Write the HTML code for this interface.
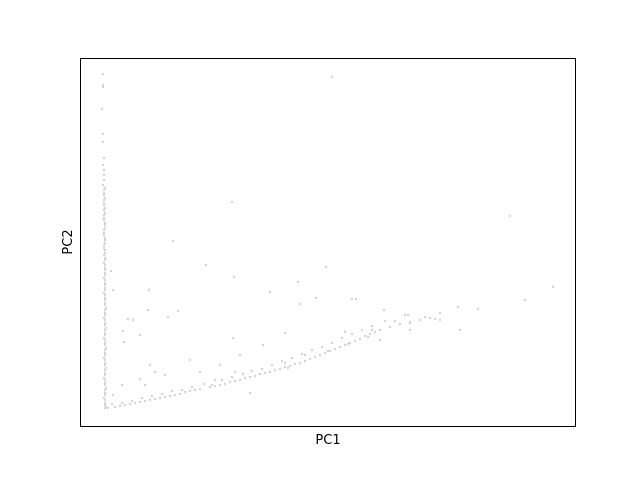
<!DOCTYPE html>
<html><head><meta charset="utf-8"><style>
body{margin:0;background:#fff}
svg text{font-family:"DejaVu Sans","Liberation Sans",sans-serif;font-size:13px;fill:#000}
</style></head><body>
<svg id="chart" width="640" height="480">
<rect x="0" y="0" width="640" height="480" fill="#fff"/>
<g id="pts"></g>
<rect x="80.5" y="58.5" width="495" height="368" fill="none" stroke="#000" stroke-width="1"/>
<text x="328" y="444" text-anchor="middle">PC1</text>
<text transform="translate(72,242) rotate(-90)" text-anchor="middle">PC2</text>
</svg>
<script>
const pc1 = [2.3,2.3,2.3,2.2,2.3,2.3,2.4,2.3,2.4,2.4,2.4,2.3,2.4,2.4,2.4,2.4,2.4,2.4,2.4,2.5,2.4,2.4,2.5,2.4,2.5,2.4,2.5,2.5,2.5,2.5,2.5,2.5,2.5,2.5,2.5,2.5,2.5,2.5,2.5,2.5,2.5,2.5,2.5,2.5,2.5,2.5,2.5,2.5,2.5,2.5,2.5,2.5,2.5,2.5,2.5,2.5,2.5,
2.8,3.5,4.0,4.5,5.0,5.5,6.0,6.5,7.0,7.5,8.0,8.5,9.0,9.5,10.0,10.5,11.0,11.5,12.0,13.0,13.5,14.0,14.5,15.0,15.5,16.0,16.5,17.0,17.5,18.0,18.5,19.0,19.5,20.0,20.5,21.0,21.5,22.0,22.5,23.0,23.5,24.0,24.5,25.0,25.5,26.0,26.5,27.0,27.5,28.0,28.5,29.0,29.5,30.0,31.0,32.0,33.0,34.0,35.0,36.0,37.8,39.8,
25.2,15.2,43.0,9.3,12.6,15.4,24.6,21.8,19.0,47.3,44.5,6.9,3.1,3.3,6.8,8.8,9.8,23.6,22.0,27.2,27.6,30.4,33.0,32.8,29.2,20.5,26.5,20.5,18.3,15.3,4.3,5.3,4.8,6.0,4.4,7.0,7.5,8.5,11.0,12.0,14.0,16.0,15.5,4.2,3.3,6.0,6.5,17.0,13.5,22.5,30.0,33.0,36.0,38.0,
2.5,2.4,2.5,2.4,2.5,2.5,2.4,2.5,2.5,2.4,2.5,2.5,2.4,2.5,2.5,2.4,2.5,2.5,2.4,2.5,2.5,2.4,2.5,2.5,2.6,2.5,2.4,2.5,2.6,2.5,2.4,2.5,2.6,2.5,2.4,2.5,2.6,2.5,2.4,2.5,2.6,2.5,2.4,2.5,2.6,
3.2,4.2,5.2,6.2,7.2,8.2,9.2,10.2,11.2,12.4,13.2,14.2,15.2,16.3,17.2,18.2,19.2,20.2,21.2,22.2,23.2,24.2,25.2,26.2,27.2,28.2,29.2,30.5,31.5,32.5,34.5,35.5,20.8,24.8,26.8,28.8];
const pc2 = [35.3,34.2,34.0,31.8,29.3,28.5,26.9,26.2,25.7,25.2,24.7,24.2,23.7,23.2,22.7,22.2,21.7,21.2,20.7,20.2,19.7,19.2,18.7,18.2,17.7,17.2,16.7,16.2,15.7,15.2,14.7,14.2,13.7,13.2,12.7,12.2,11.7,11.2,10.7,10.2,9.7,9.2,8.7,8.2,7.7,7.2,6.7,6.2,5.7,5.2,4.7,4.2,3.7,3.2,2.7,2.2,1.9,
1.9,2.0,2.1,2.2,2.3,2.4,2.5,2.6,2.7,2.8,2.9,3.0,3.1,3.2,3.3,3.5,3.6,3.7,3.8,4.0,4.1,4.2,4.3,4.5,4.6,4.7,4.9,5.0,5.1,5.3,5.4,5.5,5.7,5.8,6.0,6.1,6.3,6.4,6.6,6.8,7.0,7.2,7.4,7.6,7.8,8.0,8.2,8.4,8.6,8.8,9.1,9.3,9.5,9.7,10.0,10.3,10.5,10.7,10.9,11.4,12.0,11.8,
35.0,22.5,21.1,18.6,16.2,15.0,16.0,14.5,13.5,14.0,12.7,13.7,15.6,13.7,11.7,11.0,11.6,12.9,12.3,12.8,12.8,11.7,10.4,11.2,9.7,9.4,9.5,6.4,8.2,8.9,9.6,10.7,10.8,9.2,8.5,6.2,5.5,5.2,6.7,5.5,6.2,7.2,5.5,4.2,3.2,4.8,4.2,3.4,4.7,7.2,8.7,9.7,10.7,9.7,
23.9,23.4,22.9,22.4,21.9,21.4,20.9,20.4,19.9,19.4,18.9,18.4,17.9,17.4,16.9,16.4,15.9,15.4,14.9,14.4,13.9,13.4,12.9,12.4,11.9,11.4,10.9,10.4,9.9,9.4,8.9,8.4,7.9,7.4,6.9,6.4,5.9,5.4,4.9,4.4,3.9,3.4,2.9,2.4,2.0,
2.3,2.4,2.6,2.9,3.1,3.3,3.6,3.7,4.0,4.3,4.2,4.7,5.0,5.3,5.6,5.8,6.2,6.6,6.9,7.3,7.7,8.0,8.4,8.9,9.3,9.7,10.1,10.6,10.6,11.2,11.0,10.8,5.9,7.6,8.3,9.0];
const xMin=0,xMax=49.6,yMin=0,yMax=36.9;
const L=80,R=576,T=58,B=427;
function sx(v){return L+(v-xMin)/(xMax-xMin)*(R-L);}
function sy(v){return B-(v-yMin)/(yMax-yMin)*(B-T);}
const g=document.getElementById('pts');
const NS='http://www.w3.org/2000/svg';
for(let i=0;i<pc1.length;i++){
  const c=document.createElementNS(NS,'circle');
  c.setAttribute('cx',sx(pc1[i]).toFixed(1));
  c.setAttribute('cy',sy(pc2[i]).toFixed(1));
  c.setAttribute('r','1.2');
  c.setAttribute('fill','#d3d3d3');
  
  
  g.appendChild(c);
}
</script>
</body></html>
